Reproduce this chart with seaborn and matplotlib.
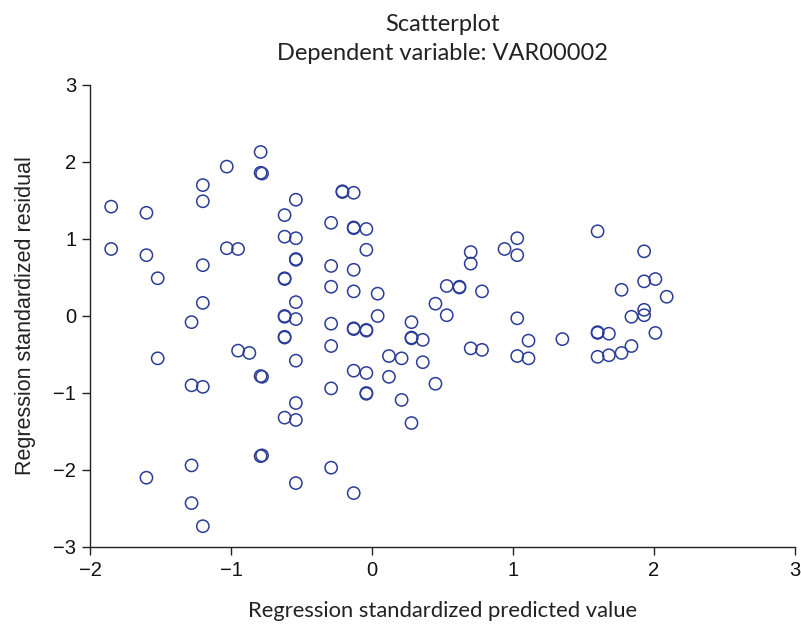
import matplotlib
matplotlib.use("Agg")
import matplotlib.pyplot as plt
import seaborn as sns
import pandas as pd

# standardized predicted values (x) and standardized residuals (y)
predicted = [
    -1.85, -1.85,
    -1.60, -1.60, -1.60,
    -1.52, -1.52,
    -1.28, -1.28, -1.28, -1.28,
    -1.20, -1.20, -1.20, -1.20, -1.20, -1.20,
    -1.03, -1.03, -0.95, -0.95, -0.87,
    -0.79, -0.79, -0.78, -0.79, -0.78, -0.79, -0.78,
    -0.62, -0.62, -0.62, -0.62, -0.62, -0.62, -0.62, -0.62, -0.62,
    -0.54, -0.54, -0.54, -0.54, -0.54, -0.54, -0.54, -0.54, -0.54, -0.54,
    -0.29, -0.29, -0.29, -0.29, -0.29, -0.29, -0.29,
    -0.21, -0.21,
    -0.13, -0.13, -0.13, -0.13, -0.13, -0.13, -0.13, -0.13, -0.13,
    -0.04, -0.04, -0.04, -0.04, -0.04, -0.04, -0.04,
    0.04, 0.04,
    0.12, 0.12, 0.21, 0.21,
    0.28, 0.28, 0.28, 0.28,
    0.36, 0.36, 0.45, 0.45,
    0.53, 0.53, 0.62, 0.62,
    0.70, 0.70, 0.70, 0.78, 0.78,
    0.94, 1.03, 1.03, 1.03, 1.03, 1.11, 1.11,
    1.35,
    1.60, 1.60, 1.60, 1.60, 1.68, 1.68,
    1.77, 1.77, 1.84, 1.84,
    1.93, 1.93, 1.93, 1.93,
    2.01, 2.01, 2.09,
]
residual = [
    1.42, 0.87,
    1.34, 0.79, -2.10,
    0.49, -0.55,
    -0.08, -0.90, -1.94, -2.43,
    1.70, 1.49, 0.66, 0.17, -0.92, -2.73,
    1.94, 0.88, 0.87, -0.45, -0.48,
    2.13, 1.86, 1.85, -0.78, -0.79, -1.82, -1.81,
    1.31, 1.03, 0.49, 0.48, -0.01, 0.00, -0.27, -0.28, -1.32,
    1.51, 1.01, 0.74, 0.73, 0.18, -0.04, -0.58, -1.13, -1.35, -2.17,
    1.21, 0.65, 0.38, -0.10, -0.39, -0.94, -1.97,
    1.62, 1.61,
    1.60, 1.14, 1.15, 0.60, 0.32, -0.17, -0.16, -0.71, -2.30,
    1.13, 0.86, -0.19, -0.18, -0.74, -1.01, -1.00,
    0.29, 0.00,
    -0.52, -0.79, -0.55, -1.09,
    -0.08, -0.29, -0.28, -1.39,
    -0.31, -0.60, 0.16, -0.88,
    0.39, 0.01, 0.38, 0.37,
    0.83, 0.68, -0.42, 0.32, -0.44,
    0.87, 1.01, 0.79, -0.03, -0.52, -0.32, -0.55,
    -0.30,
    1.10, -0.21, -0.22, -0.53, -0.23, -0.51,
    0.34, -0.48, -0.01, -0.39,
    0.84, 0.08, 0.01, 0.45,
    0.48, -0.22, 0.25,
]

df = pd.DataFrame({"pred": predicted, "resid": residual})

sns.set_style("ticks")
plt.rcParams["font.family"] = ["Liberation Sans", "DejaVu Sans"]
title_font = ["Lato", "DejaVu Sans"]

fig = plt.figure(figsize=(8.01, 6.24), dpi=100)
ax = fig.add_axes([0.1124, 0.1234, 0.8801, 0.7404])

sns.scatterplot(data=df, x="pred", y="resid", ax=ax, s=78,
                facecolor="none", edgecolor="#2b3d96", linewidth=1.1)

ax.set_xlim(-2, 3)
ax.set_ylim(-3, 3)
ax.set_xticks([-2, -1, 0, 1, 2, 3])
ax.set_yticks([-3, -2, -1, 0, 1, 2, 3])
ax.tick_params(labelsize=14.5, length=6, width=1, pad=4,
               color="#222222", labelcolor="#111111")
for side in ["left", "bottom"]:
    ax.spines[side].set_color("#222222")
    ax.spines[side].set_linewidth(1)
sns.despine(ax=ax)

ax.set_xlabel("Regression standardized predicted value", fontsize=15.8,
              family=title_font, labelpad=15, color="#222222")
ax.set_ylabel("Regression standardized residual", fontsize=15.5,
              labelpad=12, color="#222222")
ax.set_title("Scatterplot\nDependent variable: VAR00002", fontsize=17,
             family=title_font, pad=18, linespacing=1.45, color="#222222")

fig.savefig("out.png", dpi=100)
